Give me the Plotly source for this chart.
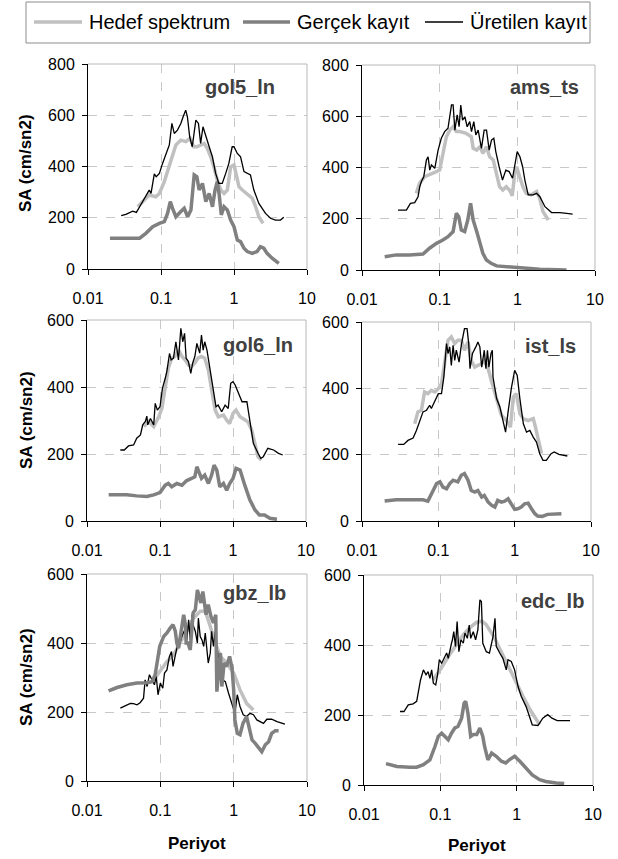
import plotly.graph_objects as go

# ---------------- data (period in s, SA in cm/s2) ----------------
# gol5_ln
gol5_hedef_T = [0.048,0.069,0.085,0.095,0.111,0.13,0.144,0.16,0.187,0.219,0.25,0.28,0.31,0.35,0.39,0.43,0.48,0.53,0.59,0.66,0.73,0.81,0.90,1.0,1.08,1.17,1.3,1.5,1.78,1.98,2.19,2.5]
gol5_hedef_SA = [243,289,282,295,341,406,451,484,503,497,510,477,477,484,490,471,438,399,347,308,295,308,399,406,367,321,308,295,276,243,204,178]
gol5_gercek_T = [0.02,0.03,0.04,0.051,0.062,0.077,0.095,0.111,0.123,0.134,0.144,0.16,0.187,0.208,0.232,0.257,0.285,0.31,0.333,0.37,0.411,0.457,0.507,0.55,0.59,0.624,0.67,0.73,0.81,0.9,1.0,1.11,1.23,1.37,1.52,1.78,2.07,2.3,2.56,2.84,3.33,3.68,4.11]
gol5_gercek_SA = [120,120,120,120,139,165,178,185,217,263,237,204,224,237,204,230,367,360,308,334,263,295,243,308,341,295,211,243,230,191,165,113,107,81,68,61,68,87,81,61,42,33,22]
gol5_uretilen_T = [0.0285,0.033,0.041,0.046,0.051,0.056,0.062,0.069,0.073,0.081,0.086,0.095,0.105,0.117,0.130,0.141,0.152,0.168,0.187,0.201,0.218,0.230,0.247,0.268,0.300,0.326,0.349,0.376,0.410,0.457,0.506,0.560,0.620,0.690,0.770,0.850,0.944,1.0,1.11,1.23,1.37,1.51,1.68,1.87,2.19,2.70,3.16,3.70,4.33,4.81]
gol5_uretilen_SA = [208,213,226,221,243,263,282,308,295,371,360,373,412,451,484,568,529,542,568,594,620,594,516,477,581,568,490,555,516,477,438,373,334,334,373,412,477,477,451,438,380,373,367,308,256,217,198,191,191,202]

# ams_ts
ams_hedef_T = [0.050,0.055,0.064,0.074,0.082,0.091,0.1,0.11,0.122,0.135,0.149,0.164,0.182,0.22,0.256,0.27,0.3,0.33,0.36,0.4,0.44,0.49,0.54,0.59,0.65,0.72,0.80,0.86,0.92,0.98,1.07,1.18,1.3,1.5,1.77,1.94,2.14,2.5]
ams_hedef_SA = [299,338,364,371,377,384,390,455,520,546,559,540,540,533,520,475,468,481,455,481,442,429,377,325,312,325,310,290,370,403,364,325,299,293,306,280,228,195]
ams_gercek_T = [0.0196,0.0277,0.041,0.061,0.074,0.091,0.11,0.128,0.149,0.164,0.176,0.19,0.21,0.23,0.25,0.27,0.3,0.33,0.36,0.4,0.46,0.54,0.72,0.98,1.3,1.94,4.3]
ams_gercek_SA = [52,59,59,62,85,104,117,130,150,221,208,156,150,195,260,195,150,104,65,39,26,16,13,10,5,3,0]
ams_uretilen_T = [0.0291,0.0373,0.042,0.0477,0.0527,0.0554,0.0582,0.0624,0.0675,0.071,0.0745,0.0783,0.0865,0.0955,0.105,0.116,0.128,0.142,0.149,0.157,0.168,0.178,0.187,0.197,0.211,0.226,0.244,0.257,0.275,0.292,0.313,0.345,0.374,0.401,0.434,0.465,0.498,0.528,0.583,0.644,0.711,0.785,0.867,0.929,0.996,1.08,1.17,1.25,1.38,1.60,1.77,1.95,2.27,2.76,3.53,4.31,5.15]
ams_uretilen_SA = [234,234,260,263,286,325,345,364,429,442,390,410,397,468,514,540,553,644,644,546,605,559,644,585,598,559,579,540,579,527,546,475,546,546,468,507,514,462,403,351,390,384,358,416,462,442,403,351,293,293,299,286,247,224,224,221,218]

# gol6_ln
gol6_hedef_T = [0.06,0.07,0.082,0.096,0.106,0.118,0.13,0.145,0.16,0.18,0.2,0.22,0.245,0.27,0.3,0.33,0.37,0.41,0.46,0.51,0.57,0.63,0.74,0.82,0.9,1.0,1.1,1.25,1.45,1.6,1.8,2.0,2.2,2.45]
gol6_hedef_SA = [282,297,282,311,336,406,456,486,491,510,491,481,466,461,471,486,491,486,451,391,331,311,316,301,291,321,331,311,301,296,272,232,192,182]
gol6_gercek_T = [0.0198,0.0257,0.035,0.048,0.066,0.082,0.1,0.118,0.13,0.145,0.17,0.2,0.23,0.27,0.3,0.32,0.345,0.37,0.41,0.46,0.51,0.55,0.6,0.66,0.74,0.82,0.9,1.0,1.1,1.25,1.45,1.7,2.0,2.3,2.7,3.2,4.0]
gol6_gercek_SA = [78,78,78,75,73,78,85,107,112,102,112,107,120,127,132,162,147,127,137,112,137,167,152,102,112,92,112,127,157,152,107,63,33,18,18,8,5]
gol6_uretilen_T = [0.0286,0.0324,0.037,0.0435,0.048,0.054,0.058,0.063,0.066,0.068,0.074,0.082,0.086,0.092,0.1,0.108,0.118,0.124,0.135,0.142,0.153,0.165,0.179,0.193,0.205,0.217,0.228,0.245,0.264,0.28,0.3,0.32,0.35,0.37,0.39,0.41,0.44,0.475,0.53,0.585,0.625,0.7,0.78,0.86,0.93,1.0,1.07,1.2,1.33,1.55,1.7,1.9,2.2,2.4,2.6,3.0,3.6,4.2,4.8]
gol6_uretilen_SA = [212,212,224,227,247,257,287,297,313,287,306,287,351,331,341,396,426,446,500,481,486,535,481,575,535,560,486,476,441,471,491,530,501,555,510,535,510,466,391,341,346,326,346,336,411,416,406,381,356,356,301,232,202,187,192,217,212,202,197]

# ist_ls
ist_hedef_T = [0.049,0.054,0.06,0.066,0.073,0.081,0.09,0.1,0.11,0.122,0.134,0.148,0.164,0.18,0.2,0.22,0.245,0.27,0.3,0.33,0.37,0.4,0.45,0.5,0.58,0.67,0.78,0.88,0.96,1.05,1.17,1.3,1.5,1.75,1.85,2.05,2.25]
ist_hedef_SA = [293,329,334,389,384,394,389,399,414,484,545,555,535,545,545,515,540,484,464,469,474,484,459,419,364,319,303,283,374,384,324,308,303,309,288,243,203]
ist_gercek_T = [0.0198,0.028,0.042,0.063,0.073,0.081,0.095,0.105,0.115,0.128,0.141,0.156,0.18,0.2,0.22,0.245,0.27,0.3,0.33,0.37,0.4,0.45,0.5,0.55,0.6,0.67,0.74,0.82,0.91,1.0,1.1,1.22,1.35,1.5,1.66,1.84,2.0,2.3,2.7,3.5,4.1]
ist_gercek_SA = [60,64,64,64,60,82,113,118,102,97,113,123,118,138,143,123,92,87,92,72,77,57,47,42,62,57,60,67,52,35,37,42,52,54,37,22,15,14,20,22,22]
ist_uretilen_T = [0.0297,0.0352,0.04,0.0467,0.0516,0.057,0.063,0.07,0.077,0.081,0.09,0.1,0.11,0.118,0.128,0.134,0.141,0.148,0.156,0.164,0.172,0.187,0.2,0.21,0.22,0.238,0.25,0.26,0.28,0.31,0.33,0.35,0.37,0.4,0.42,0.44,0.46,0.49,0.51,0.52,0.58,0.64,0.7,0.76,0.82,0.91,1.0,1.08,1.17,1.3,1.43,1.58,1.75,1.93,2.13,2.35,2.6,3.0,3.3,3.8,4.9]
ist_uretilen_SA = [231,231,243,250,273,303,329,334,349,339,364,384,384,434,535,505,525,469,530,484,515,479,530,555,580,580,535,459,505,525,540,525,464,515,459,515,464,505,515,434,369,344,303,268,329,404,454,439,369,293,268,273,253,238,203,183,183,203,208,201,196]

# gbz_lb
gbz_hedef_T = [0.081,0.1,0.123,0.152,0.187,0.23,0.284,0.35,0.41,0.48,0.56,0.66,0.8,1.0,1.22,1.5,1.86]
gbz_hedef_SA = [293,322,346,366,400,438,472,492,492,448,400,361,342,313,264,225,206]
gbz_gercek_T = [0.0197,0.0257,0.035,0.048,0.066,0.077,0.085,0.09,0.098,0.111,0.123,0.136,0.149,0.16,0.168,0.177,0.187,0.197,0.208,0.22,0.225,0.238,0.256,0.28,0.3,0.32,0.34,0.357,0.38,0.4,0.42,0.45,0.49,0.53,0.57,0.59,0.62,0.66,0.69,0.74,0.8,0.88,0.95,1.0,1.04,1.12,1.22,1.34,1.5,1.6,1.78,1.97,2.2,2.42,2.7,3.0,3.3,3.7,4.1]
gbz_gercek_SA = [261,271,279,284,285,288,308,342,390,419,429,443,453,434,400,385,419,463,482,453,400,400,380,487,496,554,535,516,549,516,482,511,477,458,482,259,322,371,274,342,332,361,327,264,177,138,134,167,187,158,119,109,95,85,105,114,138,146,146]
gbz_uretilen_T = [0.0285,0.0316,0.035,0.039,0.043,0.048,0.053,0.059,0.062,0.066,0.071,0.077,0.083,0.088,0.093,0.1,0.108,0.114,0.123,0.133,0.142,0.149,0.16,0.177,0.187,0.2,0.216,0.23,0.243,0.256,0.27,0.284,0.3,0.32,0.33,0.35,0.37,0.39,0.41,0.43,0.45,0.48,0.5,0.53,0.56,0.59,0.62,0.66,0.71,0.77,0.85,0.95,1.04,1.12,1.22,1.35,1.5,1.67,1.86,2.07,2.55,2.83,3.3,3.9,5.0]
gbz_uretilen_SA = [211,216,221,225,224,221,227,240,293,274,308,293,279,303,250,284,269,313,322,361,375,332,361,409,404,424,438,409,467,409,482,448,434,400,472,419,409,390,429,371,342,371,434,390,434,390,351,313,293,288,255,225,196,250,216,192,187,196,192,177,167,179,179,172,165]

# edc_lb
edc_hedef_T = [0.08,0.1,0.13,0.16,0.2,0.25,0.3,0.35,0.4,0.5,0.6,0.7,0.8,1.0,1.2,1.5,1.8,2.0]
edc_hedef_SA = [300,330,370,400,430,452,465,468,458,425,390,360,330,290,255,215,185,172]
edc_gercek_T = [0.0194,0.027,0.04,0.049,0.06,0.073,0.085,0.094,0.104,0.115,0.127,0.14,0.155,0.17,0.19,0.205,0.215,0.23,0.25,0.27,0.3,0.33,0.36,0.38,0.42,0.47,0.54,0.63,0.72,0.8,0.94,1.1,1.33,1.6,2.0,2.4,3.3,4.2]
edc_gercek_SA = [61,53,51,51,58,72,110,139,148,139,129,148,163,167,191,234,239,205,139,144,144,163,139,110,72,91,82,68,63,72,82,68,49,29,15,10,6,4]
edc_uretilen_T = [0.0296,0.0334,0.038,0.044,0.049,0.052,0.055,0.06,0.065,0.069,0.073,0.077,0.081,0.087,0.092,0.097,0.104,0.112,0.121,0.127,0.133,0.14,0.144,0.15,0.158,0.166,0.175,0.186,0.2,0.21,0.226,0.239,0.25,0.27,0.29,0.31,0.33,0.345,0.36,0.4,0.44,0.49,0.52,0.54,0.6,0.66,0.73,0.77,0.85,0.94,1.04,1.15,1.33,1.47,1.6,1.9,2.2,2.55,2.9,3.4,5.0]
edc_uretilen_SA = [210,210,229,232,239,272,300,329,315,324,305,329,291,286,315,358,348,362,377,362,386,405,415,438,396,467,381,415,405,434,419,457,419,438,415,443,529,524,405,381,377,424,476,396,377,362,329,358,353,329,282,253,224,196,172,170,191,201,191,184,184]

panel_names = ["gol5_ln", "ams_ts", "gol6_ln", "ist_ls", "gbz_lb", "edc_lb"]
series_names = ["Hedef spektrum", "Gerçek kayıt", "Üretilen kayıt"]
x_tick_vals = [0.01, 0.1, 1, 10]
x_tick_text = ["0.01", "0.1", "1", "10"]
y_max = [800, 800, 600, 600, 600, 600]

panel_data = [
    [(gol5_hedef_T, gol5_hedef_SA), (gol5_gercek_T, gol5_gercek_SA), (gol5_uretilen_T, gol5_uretilen_SA)],
    [(ams_hedef_T, ams_hedef_SA), (ams_gercek_T, ams_gercek_SA), (ams_uretilen_T, ams_uretilen_SA)],
    [(gol6_hedef_T, gol6_hedef_SA), (gol6_gercek_T, gol6_gercek_SA), (gol6_uretilen_T, gol6_uretilen_SA)],
    [(ist_hedef_T, ist_hedef_SA), (ist_gercek_T, ist_gercek_SA), (ist_uretilen_T, ist_uretilen_SA)],
    [(gbz_hedef_T, gbz_hedef_SA), (gbz_gercek_T, gbz_gercek_SA), (gbz_uretilen_T, gbz_uretilen_SA)],
    [(edc_hedef_T, edc_hedef_SA), (edc_gercek_T, edc_gercek_SA), (edc_uretilen_T, edc_uretilen_SA)],
]

# ---------------- styling / layout ----------------
W, H = 618, 859
FONT = "Liberation Sans, Arial, sans-serif"
colors = ["#c0c0c0", "#808080", "#000000"]
widths = [3.5, 3.5, 1.3]
# pixel boxes of each plot area: (left, right, top, bottom)
boxes = [(88, 307, 64, 269), (362, 595, 65, 270),
         (87, 306, 320, 521), (362, 591, 322, 521),
         (87, 307, 574, 781), (364, 593, 575, 785)]
title_pos = [(240, 87), (544, 87), (258, 345), (550, 346), (254, 593), (552, 601)]

fig = go.Figure()
layout = dict(width=W, height=H, margin=dict(l=0, r=0, t=0, b=0, autoexpand=False),
              paper_bgcolor="white", plot_bgcolor="white",
              font=dict(family=FONT, size=16, color="black"),
              showlegend=False, shapes=[], annotations=[])

for i, name in enumerate(panel_names):
    n = i + 1
    xa = "xaxis" if n == 1 else f"xaxis{n}"
    ya = "yaxis" if n == 1 else f"yaxis{n}"
    xr = "x" if n == 1 else f"x{n}"
    yr = "y" if n == 1 else f"y{n}"
    l, r, t, b = boxes[i]
    layout[xa] = dict(type="log", range=[-2, 1], domain=[l / W, r / W], anchor=yr,
                      tickvals=x_tick_vals, ticktext=x_tick_text,
                      showgrid=True, gridcolor="#c8c8c8", griddash="dash", gridwidth=1,
                      showline=True, linecolor="black", linewidth=1,
                      ticks="outside", ticklen=5, tickcolor="black",
                      ticklabelstandoff=10, zeroline=False, automargin=False,
                      tickfont=dict(family=FONT, size=16, color="black"))
    layout[ya] = dict(range=[0, y_max[i]], dtick=200, domain=[1 - b / H, 1 - t / H], anchor=xr,
                      showgrid=True, gridcolor="#c8c8c8", griddash="dash", gridwidth=1,
                      showline=True, linecolor="black", linewidth=1,
                      ticks="outside", ticklen=5, tickcolor="black",
                      ticklabelstandoff=4, zeroline=False, automargin=False,
                      tickfont=dict(family=FONT, size=16, color="black"))
    # top & right light border of the plot area
    layout["shapes"].append(dict(type="line", xref=f"{xr} domain", yref=f"{yr} domain",
                                 x0=0, x1=1, y0=1, y1=1, line=dict(color="#b8b8b8", width=1)))
    layout["shapes"].append(dict(type="line", xref=f"{xr} domain", yref=f"{yr} domain",
                                 x0=1, x1=1, y0=0, y1=1, line=dict(color="#b8b8b8", width=1)))
    # panel label
    tx, ty = title_pos[i]
    layout["annotations"].append(dict(text=f"<b>{name}</b>", x=tx / W, y=1 - ty / H,
                                      xref="paper", yref="paper", showarrow=False,
                                      xanchor="center", yanchor="middle",
                                      font=dict(family=FONT, size=20, color="#404040")))
    order = [0, 2, 1] if name == "gbz_lb" else [0, 1, 2]
    for k in order:
        T, SA = panel_data[i][k]
        fig.add_trace(go.Scatter(x=T, y=SA, mode="lines", name=series_names[k],
                                 xaxis=xr, yaxis=yr,
                                 line=dict(color=colors[k], width=widths[k]),
                                 showlegend=False))

# y-axis titles (left column)
for yc in [163, 420, 677]:
    layout["annotations"].append(dict(text="<b>SA (cm/sn2)</b>", x=26 / W, y=1 - yc / H,
                                      xref="paper", yref="paper", showarrow=False,
                                      textangle=-90, xanchor="center", yanchor="middle",
                                      font=dict(family=FONT, size=17, color="black")))
# x-axis titles (bottom row)
for xc, yc in [(197, 843), (477, 845)]:
    layout["annotations"].append(dict(text="<b>Periyot</b>", x=xc / W, y=1 - yc / H,
                                      xref="paper", yref="paper", showarrow=False,
                                      xanchor="center", yanchor="middle",
                                      font=dict(family=FONT, size=17, color="black")))

# legend box drawn at the top (sample lines + labels)
leg_box = (26, 590, 2, 43)
leg_lines = [(34, 82), (243, 290), (425, 463)]
leg_text_x = [87, 295, 468]
leg_y = 22
layout["shapes"].append(dict(type="rect", xref="paper", yref="paper",
                             x0=leg_box[0] / W, x1=leg_box[1] / W,
                             y0=1 - leg_box[3] / H, y1=1 - leg_box[2] / H,
                             line=dict(color="#8c8c8c", width=1), fillcolor="rgba(0,0,0,0)"))
for k in range(3):
    x0, x1 = leg_lines[k]
    layout["shapes"].append(dict(type="line", xref="paper", yref="paper",
                                 x0=x0 / W, x1=x1 / W, y0=1 - leg_y / H, y1=1 - leg_y / H,
                                 line=dict(color=colors[k], width=widths[k] if k < 2 else 1.6)))
    layout["annotations"].append(dict(text=series_names[k], x=leg_text_x[k] / W, y=1 - leg_y / H,
                                      xref="paper", yref="paper", showarrow=False,
                                      xanchor="left", yanchor="middle",
                                      font=dict(family=FONT, size=20, color="black")))

fig.update_layout(**layout)
fig.write_html("out.html")
